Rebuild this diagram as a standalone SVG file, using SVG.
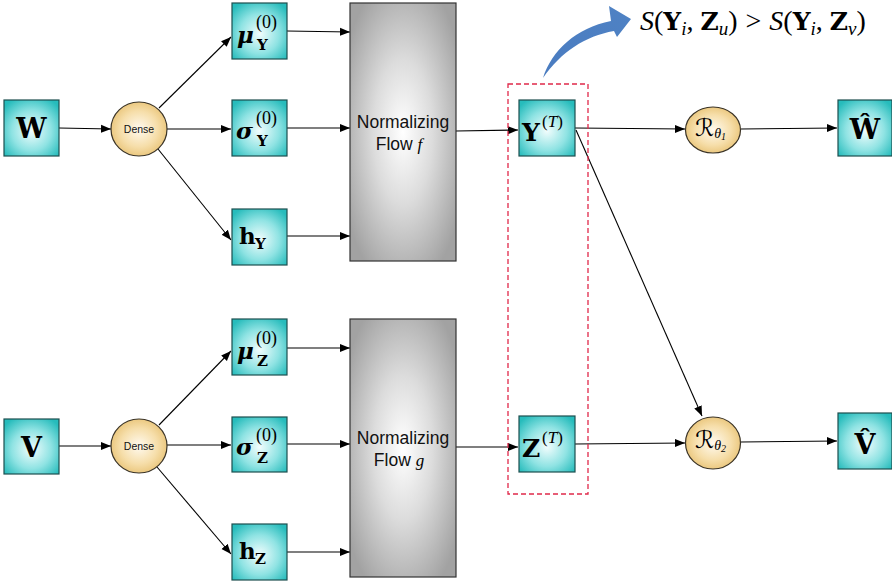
<svg xmlns="http://www.w3.org/2000/svg" width="892" height="583" viewBox="0 0 892 583">
  <defs>
    <radialGradient id="teal" cx="0.5" cy="0.55" r="0.65">
      <stop offset="0" stop-color="#f2fdfd"/>
      <stop offset="0.55" stop-color="#8fe3e3"/>
      <stop offset="1" stop-color="#27bcbc"/>
    </radialGradient>
    <radialGradient id="gold" cx="0.5" cy="0.5" r="0.55">
      <stop offset="0" stop-color="#fffaf0"/>
      <stop offset="0.6" stop-color="#f6deaa"/>
      <stop offset="1" stop-color="#e8c274"/>
    </radialGradient>
    <radialGradient id="grey" cx="0.5" cy="0.5" r="0.62">
      <stop offset="0" stop-color="#ffffff"/>
      <stop offset="0.45" stop-color="#dcdcdc"/>
      <stop offset="1" stop-color="#a2a2a2"/>
    </radialGradient>
    <linearGradient id="blue" x1="0" y1="1" x2="1" y2="0">
      <stop offset="0" stop-color="#4a7cc0"/>
      <stop offset="1" stop-color="#4f82c4"/>
    </linearGradient>
    <marker id="arr" viewBox="0 0 10 10" refX="10" refY="5" markerWidth="10" markerHeight="10" markerUnits="userSpaceOnUse" orient="auto">
      <path d="M0,1 L10,5 L0,9 Z" fill="#000"/>
    </marker>
    <style>
      .box { fill: url(#teal); stroke: #1d4f4f; stroke-width: 1.2; }
      .circ { fill: url(#gold); stroke: #3a3326; stroke-width: 1.2; }
      .flow { fill: url(#grey); stroke: #333; stroke-width: 1.2; }
      .ln { stroke: #000; stroke-width: 1.1; fill: none; marker-end: url(#arr); }
      .bm { font-family: "DejaVu Serif", "Liberation Serif", serif; font-weight: bold; }
      .rm { font-family: "Liberation Serif", "DejaVu Serif", serif; }
      .it { font-family: "Liberation Serif", "DejaVu Serif", serif; font-style: italic; }
      .scr { font-family: "DejaVu Sans", "DejaVu Serif", sans-serif; font-style: italic; }
      .sans { font-family: "Liberation Sans", Arial, sans-serif; fill: #111; }
    </style>
  </defs>

  <!-- connectors -->
  <g id="connectors">
    <line class="ln" x1="59" y1="128" x2="111" y2="129"/>
    <line class="ln" x1="159" y1="108" x2="231" y2="37"/>
    <line class="ln" x1="167" y1="129" x2="231" y2="129"/>
    <line class="ln" x1="158" y1="149" x2="231" y2="240"/>
    <line class="ln" x1="287" y1="31" x2="350" y2="32"/>
    <line class="ln" x1="287" y1="128" x2="350" y2="128"/>
    <line class="ln" x1="287" y1="236" x2="350" y2="236"/>
    <line class="ln" x1="456" y1="131" x2="518" y2="130"/>
    <line class="ln" x1="575" y1="128" x2="685" y2="129"/>
    <line class="ln" x1="741" y1="129" x2="837" y2="128"/>
    <line class="ln" x1="576" y1="130" x2="702" y2="416"/>

    <line class="ln" x1="59" y1="446" x2="111" y2="446"/>
    <line class="ln" x1="159" y1="425" x2="231" y2="351"/>
    <line class="ln" x1="167" y1="445" x2="231" y2="445"/>
    <line class="ln" x1="157" y1="467" x2="231" y2="554"/>
    <line class="ln" x1="287" y1="348" x2="350" y2="348"/>
    <line class="ln" x1="287" y1="444" x2="350" y2="444"/>
    <line class="ln" x1="287" y1="552" x2="350" y2="552"/>
    <line class="ln" x1="456" y1="447" x2="518" y2="447"/>
    <line class="ln" x1="575" y1="444" x2="685" y2="443"/>
    <line class="ln" x1="741" y1="442" x2="837" y2="441"/>
  </g>

  <!-- dashed selection around the latent outputs -->
  <rect id="latent-group" x="508" y="84" width="80" height="410" fill="none" stroke="#e0284a" stroke-width="1.3" stroke-dasharray="5,3"/>

  <!-- curved blue arrow to the ranking constraint -->
  <path id="rank-arrow" d="M543,78 C552,50 576,28 611,21 L609,6 L631,19 L617,37 L614,31 C585,36 561,52 543,78 Z" fill="url(#blue)"/>
  <text id="rank-text" x="640" y="30" font-size="28" class="rm"><tspan class="it">S</tspan>(<tspan class="bm" font-size="25">Y</tspan><tspan class="it" font-size="19" dy="5">i</tspan><tspan dy="-5">, </tspan><tspan class="bm" font-size="25">Z</tspan><tspan class="it" font-size="19" dy="5">u</tspan><tspan dy="-5">)</tspan><tspan dx="8">&gt;</tspan><tspan class="it" dx="8">S</tspan>(<tspan class="bm" font-size="25">Y</tspan><tspan class="it" font-size="19" dy="5">i</tspan><tspan dy="-5">, </tspan><tspan class="bm" font-size="25">Z</tspan><tspan class="it" font-size="19" dy="5">v</tspan><tspan dy="-5">)</tspan></text>

  <!-- upper branch -->
  <g id="node-W">
    <rect class="box" x="4" y="100" width="55" height="56"/>
    <text x="31.5" y="138" font-size="27" text-anchor="middle" class="bm">W</text>
  </g>
  <g id="node-dense1">
    <ellipse class="circ" cx="139" cy="129" rx="28" ry="27"/>
    <text x="139" y="133" font-size="10.5" text-anchor="middle" class="sans">Dense</text>
  </g>
  <g id="node-muY">
    <rect class="box" x="232" y="3" width="55" height="56"/>
    <text x="237" y="43" font-size="23" class="bm" font-style="italic">μ</text>
    <text x="256" y="28" font-size="18" class="rm">(0)</text>
    <text x="257" y="50" font-size="15" class="bm">Y</text>
  </g>
  <g id="node-sigmaY">
    <rect class="box" x="232" y="100" width="55" height="56"/>
    <text x="236" y="139" font-size="23" class="bm" font-style="italic">σ</text>
    <text x="256" y="124" font-size="18" class="rm">(0)</text>
    <text x="257" y="146" font-size="15" class="bm">Y</text>
  </g>
  <g id="node-hY">
    <rect class="box" x="232" y="209" width="55" height="56"/>
    <text x="239" y="244" font-size="23" class="bm">h</text>
    <text x="255" y="249" font-size="15" class="bm">Y</text>
  </g>
  <g id="node-flow-f">
    <rect class="flow" x="350" y="3" width="106" height="258"/>
    <text x="403" y="128" font-size="17.5" text-anchor="middle" class="sans">Normalizing</text>
    <text x="399" y="150" font-size="17.5" text-anchor="middle" class="sans">Flow <tspan class="it" font-size="17" fill="#000">f</tspan></text>
  </g>
  <g id="node-YT">
    <rect class="box" x="519" y="100" width="56" height="56"/>
    <text x="522" y="141" font-size="25" class="bm">Y</text>
    <text x="542" y="127" font-size="17" class="rm">(<tspan class="it">T</tspan>)</text>
  </g>
  <g id="node-R1">
    <ellipse class="circ" cx="713" cy="130" rx="27.5" ry="23"/>
    <text x="695" y="136" font-size="24" class="scr">ℛ<tspan class="it" font-size="14" dy="2">θ</tspan><tspan class="rm" font-size="10" dy="2">1</tspan></text>
  </g>
  <g id="node-What">
    <rect class="box" x="838" y="100" width="54" height="56"/>
    <text x="865" y="139" font-size="27" text-anchor="middle" class="bm">Ŵ</text>
  </g>

  <!-- lower branch -->
  <g id="node-V">
    <rect class="box" x="4" y="419" width="55" height="55"/>
    <text x="31.5" y="457" font-size="27" text-anchor="middle" class="bm">V</text>
  </g>
  <g id="node-dense2">
    <ellipse class="circ" cx="139" cy="446" rx="28" ry="27"/>
    <text x="139" y="450" font-size="10.5" text-anchor="middle" class="sans">Dense</text>
  </g>
  <g id="node-muZ">
    <rect class="box" x="232" y="319" width="55" height="56"/>
    <text x="237" y="359" font-size="23" class="bm" font-style="italic">μ</text>
    <text x="256" y="344" font-size="18" class="rm">(0)</text>
    <text x="257" y="366" font-size="15" class="bm">Z</text>
  </g>
  <g id="node-sigmaZ">
    <rect class="box" x="232" y="417" width="55" height="55"/>
    <text x="236" y="455" font-size="23" class="bm" font-style="italic">σ</text>
    <text x="256" y="441" font-size="18" class="rm">(0)</text>
    <text x="257" y="463" font-size="15" class="bm">Z</text>
  </g>
  <g id="node-hZ">
    <rect class="box" x="232" y="524" width="55" height="56"/>
    <text x="239" y="559" font-size="23" class="bm">h</text>
    <text x="255" y="564" font-size="15" class="bm">Z</text>
  </g>
  <g id="node-flow-g">
    <rect class="flow" x="350" y="319" width="106" height="258"/>
    <text x="403" y="444" font-size="17.5" text-anchor="middle" class="sans">Normalizing</text>
    <text x="399" y="466" font-size="17.5" text-anchor="middle" class="sans">Flow <tspan class="it" font-size="17" fill="#000">g</tspan></text>
  </g>
  <g id="node-ZT">
    <rect class="box" x="519" y="416" width="56" height="56"/>
    <text x="522" y="457" font-size="25" class="bm">Z</text>
    <text x="542" y="443" font-size="17" class="rm">(<tspan class="it">T</tspan>)</text>
  </g>
  <g id="node-R2">
    <ellipse class="circ" cx="713" cy="443" rx="27.5" ry="26"/>
    <text x="695" y="448" font-size="24" class="scr">ℛ<tspan class="it" font-size="14" dy="2">θ</tspan><tspan class="rm" font-size="10" dy="2">2</tspan></text>
  </g>
  <g id="node-Vhat">
    <rect class="box" x="838" y="413" width="54" height="56"/>
    <text x="865" y="454" font-size="27" text-anchor="middle" class="bm">V̂</text>
  </g>
</svg>
